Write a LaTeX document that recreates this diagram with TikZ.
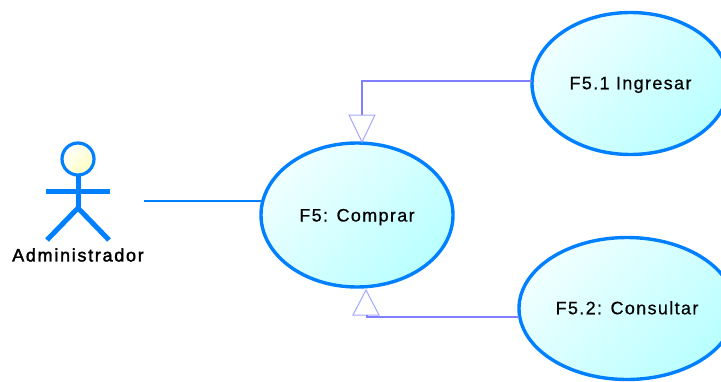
\documentclass[tikz,border=0pt]{standalone}
\usepackage{fontspec}
\newfontfamily\lab[LetterSpace=7.5,FakeBold=0.5]{Liberation Sans}
\newfontfamily\labb[LetterSpace=9.5,FakeBold=2]{Liberation Sans}
\usetikzlibrary{shapes.geometric}
\definecolor{uline}{RGB}{0,128,255}
\definecolor{conn}{RGB}{128,128,255}
\definecolor{ufill}{RGB}{185,255,255}
\definecolor{ufillb}{RGB}{240,255,255}
\definecolor{hfill}{RGB}{255,255,190}
\tikzset{
 x=1pt,y=-1pt,
 usecase/.style={ellipse,draw=uline,line width=3.4pt,inner sep=0pt,outer sep=0pt,
   left color=ufillb,right color=ufill,shading angle=45,text height=13pt,text depth=0pt,font=\lab\fontsize{18}{18}\selectfont},
 actorline/.style={draw=uline,line width=5pt},
 assoc/.style={draw=uline,line width=1.2pt},
 gen/.style={draw=conn,line width=1.2pt},
 tri/.style={draw=conn!70,line width=1pt,fill=white,line join=miter}
}
\begin{document}
\begin{tikzpicture}
\useasboundingbox (0,0) rectangle (721,381);
\begin{scope}
\clip (0,0) rectangle (721,381);
\node[usecase,minimum width=192pt,minimum height=144pt] (main) at (357,215) {F5: Comprar};
\node[usecase,minimum width=197pt,minimum height=142pt,text depth=1.5pt] (ing) at (630.5,83.5) {F5.1 Ingresar};
\node[usecase,minimum width=216pt,minimum height=142pt,text depth=1.5pt] (con) at (627,308.5) {F5.2: Consultar};
\end{scope}
% actor
\node[circle,draw=uline,line width=3.2pt,inner sep=0pt,minimum size=32pt,outer sep=0pt,
  left color=white,right color=hfill,shading angle=45] (head) at (78,159) {};
\coordinate (neck) at (78,175);
\coordinate (hip) at (78,208);
\coordinate (armL) at (46,191);
\coordinate (armR) at (110,191);
\coordinate (footL) at (47,240);
\coordinate (footR) at (109,240);
\draw[actorline] (head.south) -- (hip);
\draw[actorline] (armL) -- (armR);
\draw[actorline,line join=miter] (footL) -- (hip) -- (footR);
\node[inner sep=0pt,font=\labb\fontsize{18}{18}\selectfont] (admin) at (78,255) {Administrador};
% association
\coordinate (assocStart) at (144,201);
\draw[assoc] (assocStart) -- (main.west |- assocStart);
% generalisations
\coordinate (t1) at (362,115);
\draw[gen] (ing.west |- 0,81) -| (t1);
\draw[tri] (349,115) -- (375,115) -- (362,142) -- cycle;
\coordinate (t2) at (367,315);
\draw[tri] (353,315) -- (379,315) -- (366,290) -- cycle;
\draw[gen] (con.west |- 0,317) -| (t2);
\end{tikzpicture}
\end{document}
